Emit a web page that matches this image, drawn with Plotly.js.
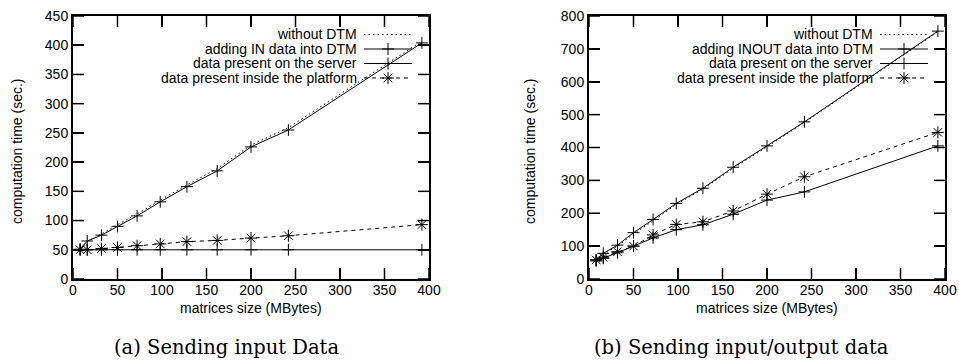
<!DOCTYPE html>
<html><head><meta charset="utf-8">
<script src="https://cdn.plot.ly/plotly-3.0.1.min.js"></script>
<style>html,body{margin:0;padding:0;background:#fff}#chart{width:959px;height:361px}</style>
</head><body><div id="chart"></div>
<script>
// ---- data ----
const sizes = [8, 16, 32, 50, 72, 98, 128, 162, 200, 242, 392];
// (a) Sending input Data
const aWithoutDTM = [53, 64, 77, 93, 111, 135, 161, 189, 229, 259, 407];
const aAddingIn   = [51, 65, 75, 90, 108, 132, 158, 185, 226, 255, 404];
const aServer     = [50, 50, 50, 50, 50, 50, 50, 50, 50, 50, 50];
const aPlatform   = [50, 50, 52, 54, 57, 60, 64, 66, 70, 74, 93];
// (b) Sending input/output data
const bWithoutDTM = [56, 75, 100, 137, 177, 227, 273, 337, 402, 476, 752];
const bAddingInout= [58, 78, 103, 141, 181, 230, 276, 340, 405, 478, 754];
const bServer     = [55, 63, 80, 100, 125, 150, 165, 197, 240, 265, 405];
const bPlatform   = [58, 66, 83, 100, 134, 166, 174, 207, 258, 311, 446];

const legendA = ["without DTM", "adding IN data into DTM", "data present on the server", "data present inside the platform"];
const legendB = ["without DTM", "adding INOUT data into DTM", "data present on the server", "data present inside the platform"];
const xTickVals = [0, 50, 100, 150, 200, 250, 300, 350, 400];
const yTickValsA = [0, 50, 100, 150, 200, 250, 300, 350, 400, 450];
const yTickValsB = [0, 100, 200, 300, 400, 500, 600, 700, 800];
const captions = ["(a) Sending input Data", "(b) Sending input/output data"];
const xTitle = "matrices size (MBytes)";
const yTitle = "computation time (sec.)";

// ---- layout helpers ----
const W = 959, H = 361;
const px = x => x / W, py = y => 1 - y / H;
const FONT = "Liberation Sans, Arial, sans-serif";
const plots = [{l: 73, r: 429}, {l: 589, r: 945}];
const plotTop = 16, plotBot = 279;
const TICK = 11;

const styles = [
  {mode: 'lines', line: {color: 'black', width: 1, dash: '1.5px,3px'}},
  {mode: 'lines+markers', line: {color: 'black', width: 1}, marker: {symbol: 'cross-thin', size: 8.5, color: 'black', line: {color: 'black', width: 1}}},
  {mode: 'lines+markers', line: {color: 'black', width: 1}, marker: {symbol: 'cross-thin', size: 8.5, color: 'black', line: {color: 'black', width: 1}}},
  {mode: 'lines+markers', line: {color: 'black', width: 1, dash: '4px,4px'}, marker: {symbol: 'asterisk', size: 10, color: 'black', line: {color: 'black', width: 1}}}
];
const seriesA = [aWithoutDTM, aAddingIn, aServer, aPlatform];
const seriesB = [bWithoutDTM, bAddingInout, bServer, bPlatform];

const traces = [];
[[seriesA, legendA, 'x', 'y'], [seriesB, legendB, 'x2', 'y2']].forEach(([ser, names, xa, ya]) => {
  ser.forEach((vals, i) => {
    traces.push(Object.assign({type: 'scatter', x: sizes, y: vals, name: names[i], xaxis: xa, yaxis: ya, showlegend: false}, JSON.parse(JSON.stringify(styles[i]))));
  });
});

function axisCommon() {
  return {
    showline: true, linecolor: 'black', linewidth: 2, mirror: 'allticks',
    ticks: 'inside', ticklen: TICK, tickwidth: 1.5, tickcolor: 'black',
    showgrid: false, zeroline: false, tickfont: {family: FONT, size: 14, color: 'black'}
  };
}
const layout = {
  width: W, height: H, margin: {l: 0, r: 0, t: 0, b: 0}, showlegend: false,
  xaxis: Object.assign(axisCommon(), {domain: [px(plots[0].l), px(plots[0].r)], range: [0, 400], tickvals: xTickVals, anchor: 'y', ticklabelstandoff: -3}),
  yaxis: Object.assign(axisCommon(), {domain: [py(plotBot), py(plotTop)], range: [0, 450], tickvals: yTickValsA, anchor: 'x'}),
  xaxis2: Object.assign(axisCommon(), {domain: [px(plots[1].l), px(plots[1].r)], range: [0, 400], tickvals: xTickVals, anchor: 'y2', ticklabelstandoff: -3}),
  yaxis2: Object.assign(axisCommon(), {domain: [py(plotBot), py(plotTop)], range: [0, 800], tickvals: yTickValsB, anchor: 'x2'}),
  annotations: [], shapes: []
};

// inside tick marks on all four sides, placed through the axes' own scales
const plotW = plots[0].r - plots[0].l, plotH = plotBot - plotTop;
[['x', 'y', yTickValsA], ['x2', 'y2', yTickValsB]].forEach(([xa, ya, yvals]) => {
  const tl = {color: 'black', width: 1.5};
  xTickVals.forEach(v => {
    layout.shapes.push({type: 'line', layer: 'above', xref: xa, yref: ya + ' domain', x0: v, x1: v, y0: 0, y1: TICK / plotH, line: tl});
    layout.shapes.push({type: 'line', layer: 'above', xref: xa, yref: ya + ' domain', x0: v, x1: v, y0: 1, y1: 1 - TICK / plotH, line: tl});
  });
  yvals.forEach(v => {
    layout.shapes.push({type: 'line', layer: 'above', xref: xa + ' domain', yref: ya, x0: 0, x1: TICK / plotW, y0: v, y1: v, line: tl});
    layout.shapes.push({type: 'line', layer: 'above', xref: xa + ' domain', yref: ya, x0: 1, x1: 1 - TICK / plotW, y0: v, y1: v, line: tl});
  });
});

const rowsY = [34.5, 49, 63.5, 78];
const titleX = [17, 530];
plots.forEach((p, k) => {
  const names = k === 0 ? legendA : legendB;
  const cx = (p.l + p.r) / 2;
  layout.annotations.push({xref: 'paper', yref: 'paper', x: px(titleX[k]), y: py(151), text: yTitle, textangle: -90, showarrow: false, xanchor: 'center', yanchor: 'middle', font: {family: FONT, size: 14, color: 'black'}});
  layout.annotations.push({xref: 'paper', yref: 'paper', x: px(cx), y: py(308), text: xTitle, showarrow: false, xanchor: 'center', yanchor: 'middle', font: {family: FONT, size: 14, color: 'black'}});
  layout.annotations.push({xref: 'paper', yref: 'paper', x: px(k === 0 ? 226 : 741), y: py(347), text: captions[k], showarrow: false, xanchor: 'center', yanchor: 'middle', font: {family: "DejaVu Serif, serif", size: 19.5, color: 'black'}});
  const sx0 = p.r - 65, sx1 = p.r - 17, mx = (sx0 + sx1) / 2;
  names.forEach((nm, i) => {
    const y = rowsY[i];
    layout.annotations.push({xref: 'paper', yref: 'paper', x: px(sx0 - 6), y: py(y), text: nm, showarrow: false, xanchor: 'right', yanchor: 'middle', font: {family: FONT, size: 14, color: 'black'}, borderpad: 0});
    layout.shapes.push({type: 'line', xref: 'paper', yref: 'paper', x0: px(sx0), x1: px(sx1), y0: py(y), y1: py(y), line: {color: 'black', width: 1, dash: styles[i].line.dash || 'solid'}});
    if (i > 0) {
      const a = 6;
      layout.shapes.push({type: 'line', xref: 'paper', yref: 'paper', x0: px(mx - a), x1: px(mx + a), y0: py(y), y1: py(y), line: {color: 'black', width: 1}});
      layout.shapes.push({type: 'line', xref: 'paper', yref: 'paper', x0: px(mx), x1: px(mx), y0: py(y - a), y1: py(y + a), line: {color: 'black', width: 1}});
      if (i === 3) {
        const d = 4.3;
        layout.shapes.push({type: 'line', xref: 'paper', yref: 'paper', x0: px(mx - d), x1: px(mx + d), y0: py(y - d), y1: py(y + d), line: {color: 'black', width: 1}});
        layout.shapes.push({type: 'line', xref: 'paper', yref: 'paper', x0: px(mx - d), x1: px(mx + d), y0: py(y + d), y1: py(y - d), line: {color: 'black', width: 1}});
      }
    }
  });
});

Plotly.newPlot('chart', traces, layout, {displayModeBar: false, staticPlot: true});
</script>
</body></html>
